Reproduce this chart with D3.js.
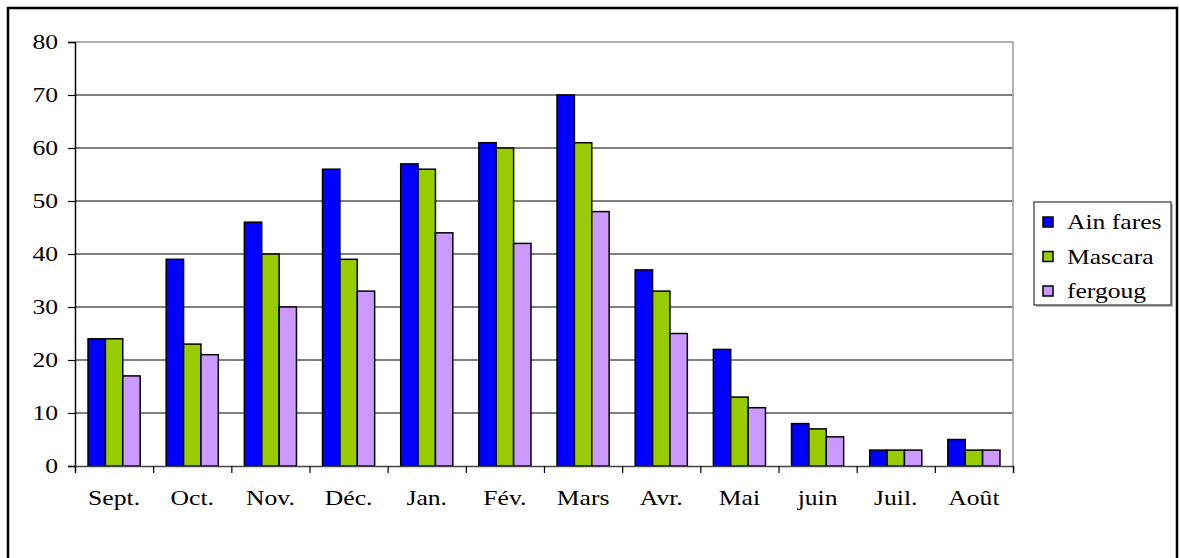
<!DOCTYPE html>
<html>
<head>
<meta charset="utf-8">
<script src="https://cdn.jsdelivr.net/npm/d3@7"></script>
<style>
  body { margin: 0; background: #fff; }
  text { font-family: "Liberation Serif", "Times New Roman", serif; fill: #000; }
</style>
</head>
<body>
<svg width="1180" height="558"></svg>
<script>
var months = ["Sept.", "Oct.", "Nov.", "Déc.", "Jan.", "Fév.", "Mars", "Avr.", "Mai", "juin", "Juil.", "Août"];
var seriesNames = ["Ain fares", "Mascara", "fergoug"];
var ainFares = [24, 39, 46, 56, 57, 61, 70, 37, 22, 8, 3, 5];
var mascara = [24, 23, 40, 39, 56, 60, 61, 33, 13, 7, 3, 3];
var fergoug = [17, 21, 30, 33, 44, 42, 48, 25, 11, 5.5, 3, 3];
var yTicks = [0, 10, 20, 30, 40, 50, 60, 70, 80];
var colors = ["#0000ff", "#99cc00", "#cc99ff"];

var svg = d3.select("svg");
var SX = 1.22; // text looks stretched sideways in the original
var FS = 21;

// outer frame
svg.append("rect")
  .attr("x", 8).attr("y", 8)
  .attr("width", 1169).attr("height", 570)
  .attr("fill", "none").attr("stroke", "#000").attr("stroke-width", 2.5);

var plotL = 75, plotR = 1013, plotT = 42, plotB = 466;

var x = d3.scaleBand().domain(months).range([plotL, plotR]).paddingInner(0);
var xb = d3.scaleLinear().domain([0, months.length]).range([plotL, plotR]);
var y = d3.scaleLinear().domain([0, 80]).range([plotB, plotT]);

// gridlines
svg.append("g")
  .selectAll("line")
  .data(yTicks.filter(d => d > 0 && d < 80))
  .enter().append("line")
    .attr("x1", plotL).attr("x2", plotR)
    .attr("y1", d => y(d)).attr("y2", d => y(d))
    .attr("stroke", "#000").attr("stroke-width", 1);

// plot area border top / right
svg.append("path")
  .attr("d", "M" + plotL + "," + plotT + "H" + plotR + "V" + plotB)
  .attr("fill", "none").attr("stroke", "#999").attr("stroke-width", 1.5);

// bars
var data = months.map((m, i) => ({ month: m, vals: [ainFares[i], mascara[i], fergoug[i]] }));
var bw = x.bandwidth() / 4.5;
var groups = svg.append("g").selectAll("g")
  .data(data)
  .enter().append("g")
    .attr("transform", d => "translate(" + (x(d.month) + bw * 0.75) + ",0)");

groups.selectAll("rect")
  .data(d => d.vals)
  .enter().append("rect")
    .attr("x", (d, i) => i * bw)
    .attr("y", d => y(d))
    .attr("width", bw)
    .attr("height", d => y(0) - y(d))
    .attr("fill", (d, i) => colors[i])
    .attr("stroke", "#000")
    .attr("stroke-width", 1.5);

function stretch(sel) {
  sel.each(function() {
    var t = d3.select(this);
    var tx = +t.attr("x") || 0;
    t.attr("x", tx / SX).attr("transform", "scale(" + SX + ",1)");
  });
}

// y axis
var yAxis = svg.append("g")
  .attr("transform", "translate(" + plotL + ",0)")
  .call(d3.axisLeft(y).tickValues(yTicks).tickSize(7).tickPadding(10));
yAxis.select(".domain").attr("stroke", "#000").attr("stroke-width", 1.5);
yAxis.selectAll(".tick line").attr("stroke", "#000").attr("stroke-width", 1.2);
yAxis.selectAll("text").style("font-size", FS + "px").attr("font-family", null).call(stretch);

// x axis boundary ticks
var xTicks = svg.append("g")
  .attr("transform", "translate(0," + plotB + ")")
  .call(d3.axisBottom(xb).tickValues(d3.range(months.length + 1)).tickSize(7).tickFormat(""));
xTicks.select(".domain").attr("stroke", "#444").attr("stroke-width", 1.5);
xTicks.selectAll(".tick line").attr("stroke", "#000").attr("stroke-width", 1.2);

// x labels
var xAxis = svg.append("g")
  .attr("transform", "translate(0," + plotB + ")")
  .call(d3.axisBottom(x).tickSize(0).tickPadding(24));
xAxis.select(".domain").remove();
xAxis.selectAll("text").style("font-size", FS + "px").attr("font-family", null).call(stretch);

// legend
var legend = svg.append("g").attr("transform", "translate(1034,202)");
legend.append("rect")
  .attr("x", 2).attr("y", 2).attr("width", 137).attr("height", 103)
  .attr("fill", "#bbb");
legend.append("rect")
  .attr("width", 137).attr("height", 103)
  .attr("fill", "#fff").attr("stroke", "#333").attr("stroke-width", 1.2);
var items = legend.selectAll(".item")
  .data(seriesNames)
  .enter().append("g")
    .attr("class", "item")
    .attr("transform", (d, i) => "translate(0," + (20 + i * 34.5) + ")");
items.append("rect")
  .attr("x", 9).attr("y", -5)
  .attr("width", 10).attr("height", 10)
  .attr("fill", (d, i) => colors[i])
  .attr("stroke", "#000").attr("stroke-width", 1.5);
items.append("text")
  .attr("x", 33)
  .attr("dy", "0.35em")
  .style("font-size", FS + "px")
  .text(d => d)
  .call(stretch);
</script>
</body>
</html>
